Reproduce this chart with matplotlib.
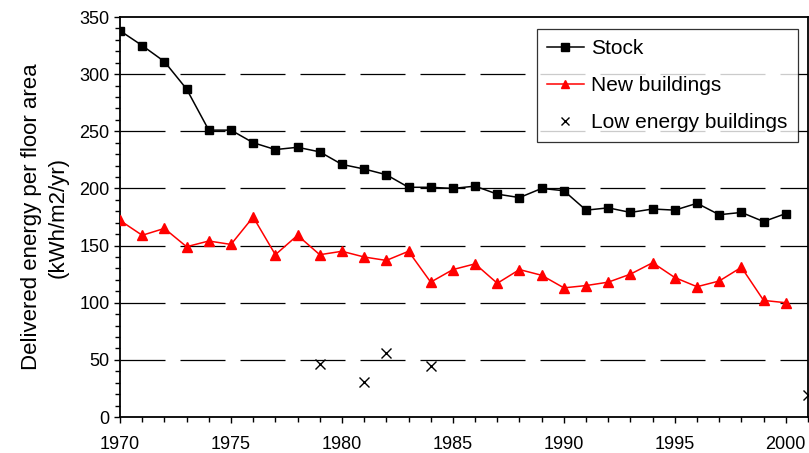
import matplotlib
matplotlib.use("Agg")
import matplotlib.pyplot as plt
from matplotlib.ticker import MultipleLocator

plt.rcParams["font.family"] = ["Liberation Sans", "DejaVu Sans"]

years = list(range(1970, 2001))
stock = [338, 325, 311, 287, 251, 251, 240, 234, 236, 232,
         221, 217, 212, 201, 201, 200, 202, 195, 192, 200,
         198, 181, 183, 179, 182, 181, 187, 177, 179, 171, 178]
new_buildings = [172, 159, 165, 149, 154, 151, 175, 142, 159, 142,
                 145, 140, 137, 145, 118, 129, 134, 117, 129, 124,
                 113, 115, 118, 125, 135, 122, 114, 119, 131, 102, 100]
low_years = [1979, 1981, 1982, 1984, 2001]
low_energy = [46, 31, 56, 45, 19]

fig = plt.figure(figsize=(8.09, 4.53), dpi=100)
ax = fig.add_axes([120 / 809, 1 - 417 / 453, 688 / 809, 400 / 453])

# dashed horizontal gridlines (Excel style)
for yv in range(50, 350, 50):
    ax.axhline(yv, color="black", lw=0.9, dashes=(36, 12), zorder=1)

ax.plot(years, stock, color="black", lw=1.1, marker="s", ms=6,
        label="Stock", zorder=3)
ax.plot(years, new_buildings, color="red", lw=1.1, marker="^", ms=7.5,
        label="New buildings", zorder=3)
ax.plot(low_years, low_energy, ls="none", marker="x", ms=6.5, mew=1.0,
        color="black", label="Low energy buildings", zorder=3, clip_on=False)

ax.set_xlim(1970, 2001)
ax.set_ylim(0, 350)
ax.xaxis.set_major_locator(MultipleLocator(5))
ax.xaxis.set_minor_locator(MultipleLocator(1))
ax.yaxis.set_major_locator(MultipleLocator(50))
ax.yaxis.set_minor_locator(MultipleLocator(10))
ax.tick_params(which="major", direction="out", length=4, width=1, labelsize=13)
ax.tick_params(which="minor", direction="out", length=3.5, width=1)
ax.tick_params(axis="x", pad=10)
for s in ax.spines.values():
    s.set_linewidth(1.3)

ax.set_ylabel("Delivered energy per floor area\n(kWh/m2/yr)", fontsize=16,
              labelpad=8, linespacing=1.3)

leg = ax.legend(loc="upper right", bbox_to_anchor=(0.985, 0.97), fontsize=15,
                frameon=True, fancybox=False, edgecolor="black",
                handlelength=1.75, handletextpad=0.35, borderpad=0.5,
                labelspacing=0.85, borderaxespad=0.0, markerscale=0.85)
leg.get_frame().set_linewidth(0.9)

fig.savefig("out.png", dpi=100)
